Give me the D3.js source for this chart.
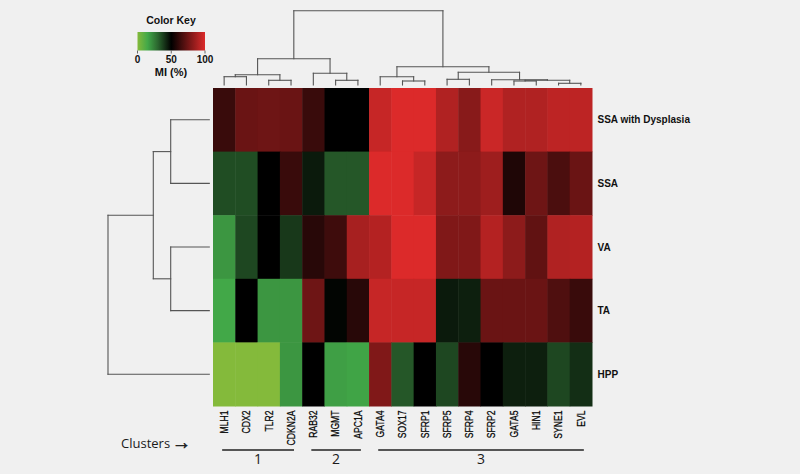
<!DOCTYPE html>
<html><head><meta charset="utf-8">
<script src="https://cdn.jsdelivr.net/npm/d3@7"></script>
<style>
html,body{margin:0;padding:0;background:#f0f0f0;}
svg{display:block;}
</style></head>
<body>
<svg id="chart" width="800" height="474"></svg>
<script>
// ---- data ----
const genes = ["MLH1","CDX2","TLR2","CDKN2A","RAB32","MGMT","APC1A","GATA4","SOX17","SFRP1","SFRP5","SFRP4","SFRP2","GATA5","HIN1","SYNE1","EVL"];
const groups = ["SSA with Dysplasia","SSA","VA","TA","HPP"];
const miSSAD = [63, 74, 75, 74, 63, 50, 50, 95, 100, 100, 90, 81, 96, 90, 90, 93, 93];
const miSSA  = [35, 35, 50, 63, 45, 33, 33, 100, 100, 95, 82, 82, 86, 57, 75, 67, 74];
const miVA   = [19, 36, 50, 39, 59, 64, 88, 91, 100, 100, 79, 79, 91, 82, 72, 90, 91];
const miTA   = [15, 50, 19, 19, 75, 49, 59, 95, 95, 95, 45, 44, 74, 74, 74, 68, 63];
const miHPP  = [0, 0, 0, 19, 50, 17, 16, 79, 33, 50, 36, 59, 50, 44, 44, 36, 41];
// column dendrogram (hclust style: negative = leaf index, positive = merge step)
const colMerge = [[-16,-17],[-9,-10],[-14,-15],[-3,-4],[-6,-7],[3,1],[-13,6],[-11,-12],[-8,2],[-1,-2],[10,4],[-5,5],[8,7],[9,13],[11,12],[15,14]];
const colHeight = [1.7,4.0,4.0,4.7,4.7,4.7,5.3,5.7,8.3,8.3,10.3,11.7,12.7,18.3,26.3,74.3];
// row dendrogram
const rowMerge = [[-1,-2],[-3,-4],[1,2],[3,-5]];
const rowHeight = [38.6,38.6,56,101.3];
const clusterNames = ["1","2","3"];
const clusterFirst = ["MLH1","RAB32","GATA4"];
const clusterLast = ["CDKN2A","APC1A","EVL"];
const keyTicks = [0,50,100];

const matrix = [miSSAD, miSSA, miVA, miTA, miHPP];

// ---- layout ----
const svg = d3.select("#chart");
const hm = {x0:213, x1:592, y0:88, y1:406};
const x = d3.scaleBand().domain(genes).range([hm.x0, hm.x1]);
const y = d3.scaleBand().domain(groups).range([hm.y0, hm.y1]);
const color = d3.scaleLinear()
  .domain([0,15,30,50,100])
  .range(["#84ba3b","#42a848","#2b662f","#000000","#dc2a2a"])
  .clamp(true);
const bold = "'Liberation Sans', Arial, Helvetica, sans-serif";

svg.append("rect").attr("width",800).attr("height",474).attr("fill","#f0f0f0");

// heatmap cells
const cells = [];
groups.forEach((g,i)=>genes.forEach((c,j)=>cells.push({g, c, v: matrix[i][j]})));
svg.append("g").selectAll("rect").data(cells).join("rect")
  .attr("x", d=>x(d.c)).attr("y", d=>y(d.g))
  .attr("width", x.bandwidth()+0.5).attr("height", y.bandwidth()+0.5)
  .attr("fill", d=>color(d.v));

// dendrogram helper
function drawDendro(merge, heights, leafPos, hScale, orient){
  const pos = [];
  const getPos = k => k<0 ? leafPos[-k-1] : pos[k-1];
  const getH = k => k<0 ? 0 : heights[k-1];
  const segs = [];
  merge.forEach((m,i)=>{
    const p1 = getPos(m[0]), p2 = getPos(m[1]);
    const h = heights[i];
    pos.push((p1+p2)/2);
    segs.push([p1, getH(m[0]), p1, h]);
    segs.push([p1, h, p2, h]);
    segs.push([p2, h, p2, getH(m[1])]);
  });
  const g = svg.append("g").attr("stroke","#555").attr("stroke-width",1.1).attr("fill","none");
  g.selectAll("line").data(segs).join("line")
    .attr("x1", s=> orient==="top" ? s[0] : hScale(s[1]))
    .attr("y1", s=> orient==="top" ? hScale(s[1]) : s[0])
    .attr("x2", s=> orient==="top" ? s[2] : hScale(s[3]))
    .attr("y2", s=> orient==="top" ? hScale(s[3]) : s[2])
    .attr("stroke-linecap","square");
}
const colLeaf = genes.map(c=>x(c)+x.bandwidth()/2);
const rowLeaf = groups.map(g=>y(g)+y.bandwidth()/2);
drawDendro(colMerge, colHeight, colLeaf,
  d3.scaleLinear().domain([0, d3.max(colHeight)]).range([85, 10.7]), "top");
drawDendro(rowMerge, rowHeight, rowLeaf,
  d3.scaleLinear().domain([0, d3.max(rowHeight)]).range([209.3, 108]), "left");

// row labels
svg.append("g").selectAll("text").data(groups).join("text")
  .attr("x", 597.5).attr("y", g=>y(g)+y.bandwidth()/2).attr("dy","0.35em")
  .attr("font-family",bold)
  .attr("font-weight","bold").attr("font-size",10).attr("fill","#111")
  .text(g=>g);

// column labels
svg.append("g").selectAll("text").data(genes).join("text")
  .attr("transform", c=>`translate(${x(c)+x.bandwidth()/2},410.5) rotate(-90) scale(0.82,1)`)
  .attr("dy","0.36em").attr("text-anchor","end")
  .attr("font-family","'Liberation Sans', Arial, sans-serif")
  .attr("font-size",10.5).attr("fill","#000").attr("stroke","#000").attr("stroke-width",0.25)
  .text(c=>c);

// clusters
const cg = svg.append("g");
clusterNames.forEach((n,i)=>{
  const a = x(clusterFirst[i]) + x.bandwidth()/2 - 2;
  const b = x(clusterLast[i]) + x.bandwidth()/2 + 3;
  cg.append("line").attr("x1",a).attr("x2",b).attr("y1",450).attr("y2",450)
    .attr("stroke","#222").attr("stroke-width",1.3);
  cg.append("text").attr("x",(a+b)/2).attr("y",464).attr("text-anchor","middle")
    .attr("font-family","'Open Sans', 'Liberation Sans', sans-serif").attr("font-size",14).attr("fill","#1a1a1a")
    .text(n);
});
const cl = svg.append("text").attr("x",121).attr("y",447.5)
  .attr("font-family","'Open Sans', 'Liberation Sans', sans-serif").attr("font-size",13).attr("fill","#1a1a1a");
cl.append("tspan").text("Clusters");
cl.append("tspan").attr("dx",2).attr("font-size",19).attr("dy",1.5)
  .attr("stroke","#1a1a1a").attr("stroke-width",0.6).text("\u2192");

// color key
const key = {x0:137.5, x1:205, y0:32, y1:50.5};
const kx = d3.scaleLinear().domain([0,100]).range([key.x0, key.x1]);
const defs = svg.append("defs");
const grad = defs.append("linearGradient").attr("id","kg");
d3.range(0,101,5).forEach(v=>grad.append("stop").attr("offset", v+"%").attr("stop-color", color(v)));
svg.append("rect").attr("x",key.x0).attr("y",key.y0).attr("width",key.x1-key.x0).attr("height",key.y1-key.y0)
  .attr("fill","url(#kg)");
svg.append("text").attr("x",171).attr("y",24).attr("text-anchor","middle")
  .attr("font-family",bold).attr("font-weight","bold").attr("font-size",10.5).attr("fill","#111")
  .text("Color Key");
const kt = svg.append("g");
kt.selectAll("line").data(keyTicks).join("line")
  .attr("x1",kx).attr("x2",kx).attr("y1",key.y1).attr("y2",key.y1+3).attr("stroke","#444").attr("stroke-width",0.8);
kt.selectAll("text").data(keyTicks).join("text")
  .attr("x",kx).attr("y",63).attr("text-anchor","middle")
  .attr("font-family",bold).attr("font-weight","bold").attr("font-size",10).attr("fill","#111")
  .text(d=>d);
svg.append("text").attr("x",171).attr("y",75.5).attr("text-anchor","middle")
  .attr("font-family",bold).attr("font-weight","bold").attr("font-size",11).attr("fill","#111")
  .text("MI (%)");
</script>
</body></html>
